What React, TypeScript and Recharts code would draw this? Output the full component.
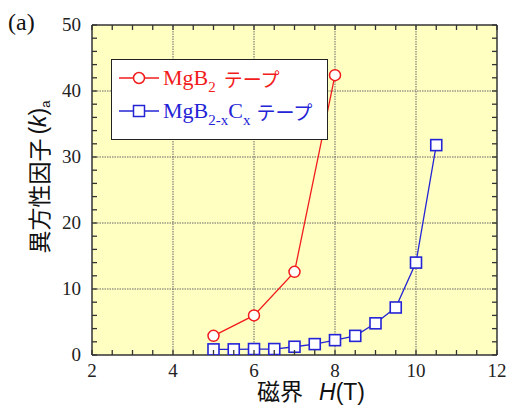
import React from "react";
import {
  LineChart,
  Line,
  XAxis,
  YAxis,
  ReferenceLine,
  Legend,
} from "recharts";

// measured values (H in tesla, anisotropy factor k_a)
const FIELD_MGB2 = [5, 6, 7, 8];
const KA_MGB2 = [2.9, 6.0, 12.6, 42.4];

const FIELD_MGB2C = [5, 5.5, 6, 6.5, 7, 7.5, 8, 8.5, 9, 9.5, 10, 10.5];
const KA_MGB2C = [0.85, 0.85, 0.9, 0.9, 1.25, 1.65, 2.25, 2.9, 4.8, 7.2, 14.0, 31.8];

const X_TICKS = [2, 2.5, 3, 3.5, 4, 4.5, 5, 5.5, 6, 6.5, 7, 7.5, 8, 8.5, 9, 9.5, 10, 10.5, 11, 11.5, 12];
const X_LABELS = [2, 4, 6, 8, 10, 12];
const X_GRID = [4, 6, 8, 10];
const Y_TICKS = [0, 2, 4, 6, 8, 10, 12, 14, 16, 18, 20, 22, 24, 26, 28, 30, 32, 34, 36, 38, 40, 42, 44, 46, 48, 50];
const Y_LABELS = [0, 10, 20, 30, 40, 50];
const Y_GRID = [10, 20, 30, 40];

const RED = "#f21c1c";
const BLUE = "#2424d6";
const AXIS = "#333";
const TICK_LEN = 5;

// plot box (chart margins + axis sizes)
const M = { top: 25, right: 10, left: 32, bottom: 0 };
const Y_AXIS_W = 60;
const X_AXIS_H = 53;
const W = 507;
const H = 408;
const PLOT_LEFT = M.left + Y_AXIS_W;
const PLOT_TOP = M.top;
const PLOT_RIGHT = W - M.right;
const PLOT_BOTTOM = H - M.bottom - X_AXIS_H;

const mgb2 = FIELD_MGB2.map((h, i) => ({ h, ka: KA_MGB2[i] }));
const mgb2c = FIELD_MGB2C.map((h, i) => ({ h, ka: KA_MGB2C[i] }));

const serif = '"Liberation Serif", "Times New Roman", serif';
const cjk = '"Noto Sans CJK JP", "Noto Sans", sans-serif';
const sans = '"Liberation Sans", Arial, sans-serif';

// bottom tick also mirrors an inward tick on the top frame
function BottomTick(props: any) {
  const { x, y, payload } = props;
  const v = payload.value;
  return (
    <g>
      <line x1={x} y1={y} x2={x} y2={y - TICK_LEN} stroke={AXIS} strokeWidth={1.3} />
      <line x1={x} y1={PLOT_TOP} x2={x} y2={PLOT_TOP + TICK_LEN} stroke={AXIS} strokeWidth={1.3} />
      {X_LABELS.includes(v) && (
        <text x={x} y={y + 22} textAnchor="middle" fontSize={19} fontFamily={serif} fill="#222">
          {v}
        </text>
      )}
    </g>
  );
}

function LeftTick(props: any) {
  const { x, y, payload } = props;
  const v = payload.value;
  return (
    <g>
      <line x1={x} y1={y} x2={x + TICK_LEN} y2={y} stroke={AXIS} strokeWidth={1.3} />
      <line x1={PLOT_RIGHT} y1={y} x2={PLOT_RIGHT - TICK_LEN} y2={y} stroke={AXIS} strokeWidth={1.3} />
      {Y_LABELS.includes(v) && (
        <text x={x - 11} y={y + 6} textAnchor="end" fontSize={19} fontFamily={serif} fill="#222">
          {v}
        </text>
      )}
    </g>
  );
}

function SquareDot(props: any) {
  const { cx, cy, index } = props;
  if (cx == null || cy == null) return null;
  return (
    <rect
      key={`sq-${index}`}
      x={cx - 5.5}
      y={cy - 5.5}
      width={11}
      height={11}
      fill="#fff"
      stroke={BLUE}
      strokeWidth={1.6}
    />
  );
}

function XTitle() {
  return (
    <text x={311} y={400} textAnchor="middle" fontSize={23} fill="#111" fontFamily={cjk}>
      磁界
      <tspan dx={16} fontStyle="italic" fontFamily={sans}>H</tspan>
      <tspan fontFamily={sans}>(T)</tspan>
    </text>
  );
}

function YTitle() {
  return (
    <text
      x={38}
      y={177}
      transform="rotate(-90, 38, 177)"
      textAnchor="middle"
      dominantBaseline="central"
      fontSize={23}
      fill="#111"
      fontFamily={cjk}
    >
      異方性因子
      <tspan dx={4} fontFamily={sans}>(</tspan>
      <tspan fontStyle="italic" fontFamily={sans}>k</tspan>
      <tspan fontFamily={sans}>)</tspan>
      <tspan fontSize={13} dy={7} fontFamily={sans}>a</tspan>
    </text>
  );
}

function LegendBox() {
  const row = (top: number): React.CSSProperties => ({
    position: "absolute",
    left: 7,
    top,
    height: 26,
    display: "flex",
    alignItems: "center",
    whiteSpace: "nowrap",
  });
  const sub: React.CSSProperties = { fontSize: 15, position: "relative", top: 7 };
  return (
    <div
      style={{
        width: 217,
        height: 81,
        boxSizing: "border-box",
        border: "1.5px solid #222",
        background: "#fff",
        position: "relative",
        fontFamily: serif,
        fontSize: 22,
      }}
    >
      <div style={{ ...row(5), color: RED }}>
        <svg width={40} height={20}>
          <line x1={0} y1={10} x2={40} y2={10} stroke={RED} strokeWidth={1.3} />
          <circle cx={20} cy={10} r={5.5} fill="#fff" stroke={RED} strokeWidth={1.5} />
        </svg>
        <span style={{ marginLeft: 4 }}>
          MgB<span style={sub}>2</span>
        </span>
        <span style={{ fontFamily: cjk, fontSize: 19, marginLeft: 8 }}>テープ</span>
      </div>
      <div style={{ ...row(38), color: BLUE }}>
        <svg width={40} height={20}>
          <line x1={0} y1={10} x2={40} y2={10} stroke={BLUE} strokeWidth={1.3} />
          <rect x={14.5} y={4.5} width={11} height={11} fill="#fff" stroke={BLUE} strokeWidth={1.5} />
        </svg>
        <span style={{ marginLeft: 4 }}>
          MgB<span style={sub}>2-x</span>C<span style={sub}>x</span>
        </span>
        <span style={{ fontFamily: cjk, fontSize: 19, marginLeft: 6 }}>テープ</span>
      </div>
    </div>
  );
}

export default function App() {
  return (
    <div style={{ position: "absolute", left: 0, top: 0, width: W, height: H, background: "#fff" }}>
      {/* plot background sits behind the transparent svg */}
      <div
        style={{
          position: "absolute",
          left: PLOT_LEFT,
          top: PLOT_TOP,
          width: PLOT_RIGHT - PLOT_LEFT,
          height: PLOT_BOTTOM - PLOT_TOP,
          background: "#ffffc2",
        }}
      />
      <div
        style={{
          position: "absolute",
          left: 8,
          top: 8,
          fontFamily: serif,
          fontSize: 24,
          color: "#111",
          lineHeight: "28px",
        }}
      >
        (a)
      </div>
      <LineChart width={W} height={H} margin={M}>
        {X_GRID.map((v) => (
          <ReferenceLine key={`gx-${v}`} xAxisId="b" yAxisId="l" x={v} stroke="#666" strokeDasharray="1.5 1" />
        ))}
        {Y_GRID.map((v) => (
          <ReferenceLine key={`gy-${v}`} xAxisId="b" yAxisId="l" y={v} stroke="#666" strokeDasharray="1.5 1" />
        ))}
        {/* top and right frame */}
        <ReferenceLine xAxisId="b" yAxisId="l" y={50} stroke={AXIS} strokeWidth={1.5} />
        <ReferenceLine xAxisId="b" yAxisId="l" x={12} stroke={AXIS} strokeWidth={1.5} />
        <XAxis
          xAxisId="b"
          dataKey="h"
          type="number"
          domain={[2, 12]}
          ticks={X_TICKS}
          interval={0}
          height={X_AXIS_H}
          tickSize={0}
          tickMargin={0}
          tick={(p: any) => <BottomTick {...p} />}
          axisLine={{ stroke: AXIS, strokeWidth: 1.5 }}
          label={<XTitle />}
          allowDataOverflow
        />
        <YAxis
          yAxisId="l"
          type="number"
          domain={[0, 50]}
          ticks={Y_TICKS}
          interval={0}
          width={Y_AXIS_W}
          tickSize={0}
          tickMargin={0}
          tick={(p: any) => <LeftTick {...p} />}
          axisLine={{ stroke: AXIS, strokeWidth: 1.5 }}
          label={<YTitle />}
          allowDataOverflow
        />
        <Legend
          layout="horizontal"
          verticalAlign="middle"
          align="center"
          wrapperStyle={{ left: 111, top: 59, width: 217, height: 81 }}
          content={<LegendBox />}
        />
        <Line
          xAxisId="b"
          yAxisId="l"
          data={mgb2}
          dataKey="ka"
          stroke={RED}
          strokeWidth={1.3}
          dot={{ r: 5.5, fill: "#fff", stroke: RED, strokeWidth: 1.5 }}
          isAnimationActive={false}
        />
        <Line
          xAxisId="b"
          yAxisId="l"
          data={mgb2c}
          dataKey="ka"
          stroke={BLUE}
          strokeWidth={1.3}
          dot={<SquareDot />}
          isAnimationActive={false}
        />
      </LineChart>
    </div>
  );
}
